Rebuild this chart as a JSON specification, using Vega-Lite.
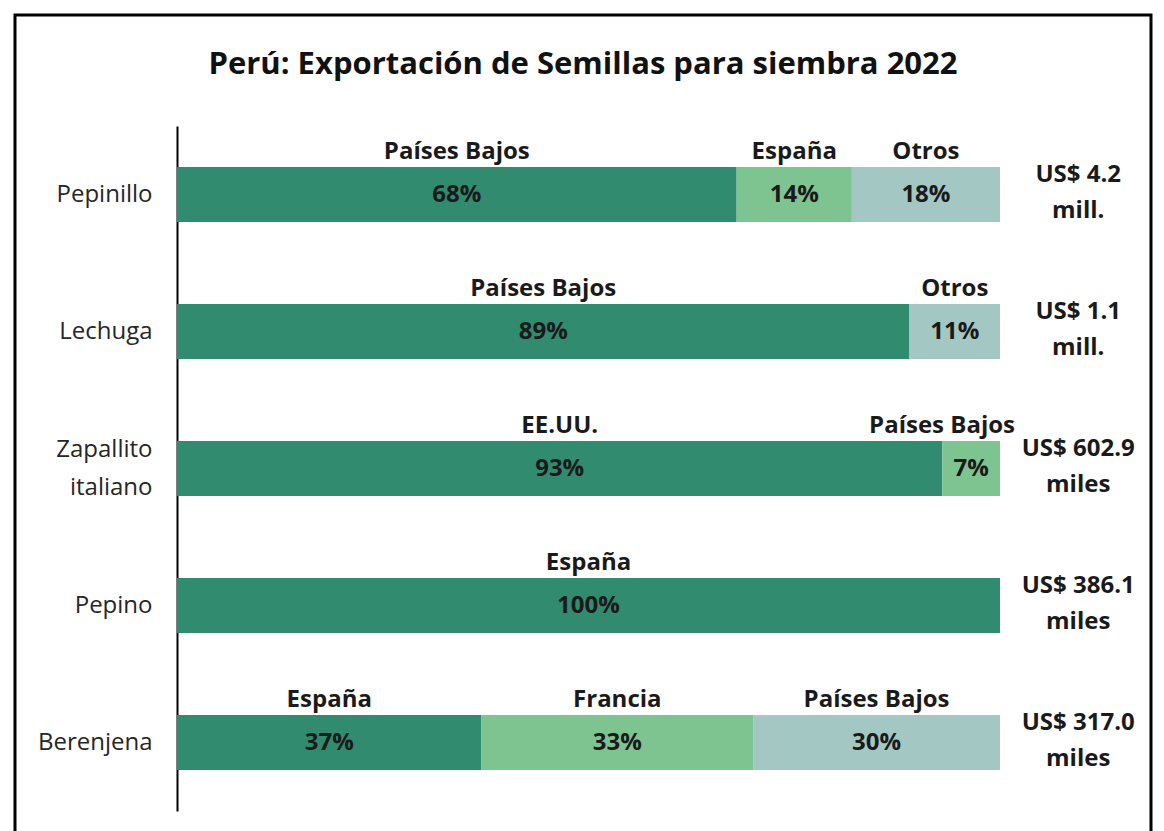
{
  "$schema": "https://vega.github.io/schema/vega-lite/v6.json",
  "width": 1164,
  "height": 831,
  "autosize": {"type": "fit", "contains": "padding"},
  "padding": {"left": 15, "top": 15, "right": 13, "bottom": -12},
  "background": "white",
  "config": {"view": {"stroke": "#000", "strokeWidth": 3}, "font": "Open Sans"},
  "title": {
    "text": "Perú: Exportación de Semillas para siembra 2022",
    "font": "Open Sans",
    "fontSize": 31,
    "fontWeight": "bold",
    "color": "#111111",
    "anchor": "middle",
    "offset": -66
  },
  "datasets": {
    "segmentos": [
      {"cultivo": "Pepinillo", "pais": "Países Bajos", "serie": "1", "pct": 0.68},
      {"cultivo": "Pepinillo", "pais": "España", "serie": "2", "pct": 0.14},
      {"cultivo": "Pepinillo", "pais": "Otros", "serie": "3", "pct": 0.18},
      {"cultivo": "Lechuga", "pais": "Países Bajos", "serie": "1", "pct": 0.89},
      {"cultivo": "Lechuga", "pais": "Otros", "serie": "3", "pct": 0.11},
      {"cultivo": "Zapallito italiano", "pais": "EE.UU.", "serie": "1", "pct": 0.93},
      {"cultivo": "Zapallito italiano", "pais": "Países Bajos", "serie": "2", "pct": 0.07},
      {"cultivo": "Pepino", "pais": "España", "serie": "1", "pct": 1.0},
      {"cultivo": "Berenjena", "pais": "España", "serie": "1", "pct": 0.37},
      {"cultivo": "Berenjena", "pais": "Francia", "serie": "2", "pct": 0.33},
      {"cultivo": "Berenjena", "pais": "Países Bajos", "serie": "3", "pct": 0.30}
    ],
    "totales": [
      {"cultivo": "Pepinillo", "monto": "US$ 4.2", "unidad": "mill."},
      {"cultivo": "Lechuga", "monto": "US$ 1.1", "unidad": "mill."},
      {"cultivo": "Zapallito italiano", "monto": "US$ 602.9", "unidad": "miles"},
      {"cultivo": "Pepino", "monto": "US$ 386.1", "unidad": "miles"},
      {"cultivo": "Berenjena", "monto": "US$ 317.0", "unidad": "miles"}
    ]
  },
  "encoding": {
    "y": {
      "field": "cultivo",
      "type": "nominal",
      "sort": ["Pepinillo", "Lechuga", "Zapallito italiano", "Pepino", "Berenjena"],
      "scale": {"range": [111, 796], "paddingInner": 0.6, "paddingOuter": 0.3},
      "axis": {
        "orient": "left",
        "offset": -162,
        "title": null,
        "domainColor": "#000000",
        "domainWidth": 2,
        "ticks": false,
        "grid": false,
        "labelPadding": 25,
        "labelFont": "Open Sans",
        "labelFontSize": 24,
        "labelColor": "#262626",
        "labelLineHeight": 38,
        "labelOffset": {"condition": {"test": "datum.value == 'Zapallito italiano'", "value": -19}, "value": 0},
        "labelExpr": "datum.value == 'Zapallito italiano' ? ['Zapallito', 'italiano'] : datum.value"
      }
    }
  },
  "layer": [
    {
      "data": {"name": "segmentos"},
      "mark": {"type": "bar"},
      "encoding": {
        "x": {"field": "pct", "type": "quantitative", "stack": "zero", "scale": {"domain": [0, 1], "range": [162, 985], "nice": false, "zero": true}, "axis": null},
        "color": {"field": "serie", "type": "nominal", "scale": {"domain": ["1", "2", "3"], "range": ["#318B6F", "#7DC491", "#A3C8C4"]}, "legend": null},
        "order": {"field": "serie"}
      }
    },
    {
      "data": {"name": "segmentos"},
      "mark": {"type": "text", "font": "Open Sans", "fontSize": 24, "fontWeight": "bold", "color": "#1a1a1a", "baseline": "middle"},
      "encoding": {
        "x": {"field": "pct", "type": "quantitative", "stack": "zero", "bandPosition": 0.5},
        "detail": {"field": "serie"},
        "order": {"field": "serie"},
        "text": {"field": "pct", "type": "quantitative", "format": ".0%"}
      }
    },
    {
      "data": {"name": "segmentos"},
      "mark": {"type": "text", "font": "Open Sans", "fontSize": 24, "fontWeight": "bold", "color": "#1a1a1a", "baseline": "middle", "dy": -43},
      "encoding": {
        "x": {"field": "pct", "type": "quantitative", "stack": "zero", "bandPosition": 0.5},
        "detail": {"field": "serie"},
        "order": {"field": "serie"},
        "text": {"condition": {"test": "datum.pct < 0.1", "value": ""}, "field": "pais", "type": "nominal"}
      }
    },
    {
      "data": {"name": "segmentos"},
      "mark": {"type": "text", "font": "Open Sans", "fontSize": 24, "fontWeight": "bold", "color": "#1a1a1a", "baseline": "middle", "align": "right", "dy": -43, "dx": 15},
      "encoding": {
        "x": {"field": "pct", "type": "quantitative", "stack": "zero", "bandPosition": 1},
        "detail": {"field": "serie"},
        "order": {"field": "serie"},
        "text": {"condition": {"test": "datum.pct >= 0.1", "value": ""}, "field": "pais", "type": "nominal"}
      }
    },
    {
      "data": {"name": "totales"},
      "mark": {"type": "text", "font": "Open Sans", "fontSize": 24, "fontWeight": "bold", "color": "#1a1a1a", "baseline": "middle", "dy": -20},
      "encoding": {
        "x": {"datum": 1.095, "type": "quantitative"},
        "text": {"field": "monto", "type": "nominal"}
      }
    },
    {
      "data": {"name": "totales"},
      "mark": {"type": "text", "font": "Open Sans", "fontSize": 24, "fontWeight": "bold", "color": "#1a1a1a", "baseline": "middle", "dy": 16},
      "encoding": {
        "x": {"datum": 1.095, "type": "quantitative"},
        "text": {"field": "unidad", "type": "nominal"}
      }
    }
  ]
}
